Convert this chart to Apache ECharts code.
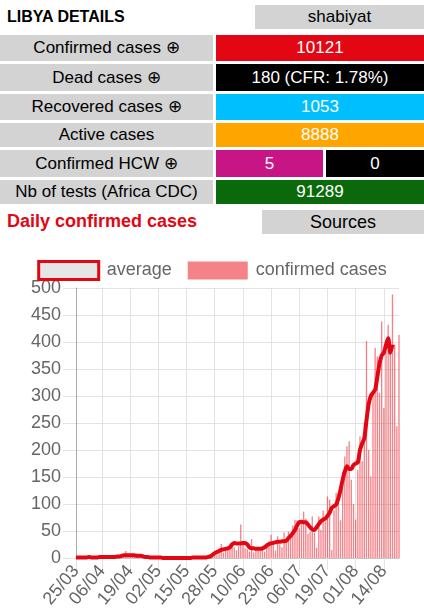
<!DOCTYPE html>
<html>
<head>
<meta charset="utf-8">
<script src="https://cdn.jsdelivr.net/npm/echarts@6/dist/echarts.min.js"></script>
<style>
  body {
    margin: 0;
    width: 424px;
    height: 616px;
    position: relative;
    overflow: hidden;
    background: #fff;
    font-family: Arial, "Liberation Sans", Helvetica, sans-serif;
    color: #000;
  }
  .box {
    position: absolute;
    text-align: center;
    font-size: 17px;
    white-space: nowrap;
  }
  .grey { background: #d3d3d3; color: #000; }
  .val { color: #fff; }
  .title {
    position: absolute;
    left: 7px;
    top: 8px;
    font-size: 16px;
    font-weight: bold;
  }
  .heading {
    position: absolute;
    left: 7px;
    top: 211px;
    font-size: 18px;
    font-weight: bold;
    color: #e30613;
  }
  #chart {
    position: absolute;
    left: 0;
    top: 240px;
    width: 424px;
    height: 376px;
  }
</style>
</head>
<body>
<div class="title">LIBYA DETAILS</div>
<div class="box grey" style="left:255px;top:5px;width:169px;height:24px;line-height:24px;">shabiyat</div>

<div class="box grey" style="left:0;top:35px;width:213px;height:26px;line-height:26px;">Confirmed cases ⊕</div>
<div class="box val" style="left:216px;top:35px;width:208px;height:26px;line-height:26px;background:#e30613;">10121</div>

<div class="box grey" style="left:0;top:64px;width:213px;height:27px;line-height:27px;">Dead cases ⊕</div>
<div class="box val" style="left:216px;top:64px;width:208px;height:27px;line-height:27px;background:#000;">180 (CFR: 1.78%)</div>

<div class="box grey" style="left:0;top:94px;width:213px;height:26px;line-height:26px;">Recovered cases ⊕</div>
<div class="box val" style="left:216px;top:94px;width:208px;height:26px;line-height:26px;background:#00bfff;">1053</div>

<div class="box grey" style="left:0;top:123px;width:213px;height:24px;line-height:24px;">Active cases</div>
<div class="box val" style="left:216px;top:123px;width:208px;height:24px;line-height:24px;background:#ffa500;">8888</div>

<div class="box grey" style="left:0;top:150px;width:213px;height:27px;line-height:27px;">Confirmed HCW ⊕</div>
<div class="box val" style="left:216px;top:150px;width:107px;height:27px;line-height:27px;background:#c71585;">5</div>
<div class="box val" style="left:326px;top:150px;width:98px;height:27px;line-height:27px;background:#000;">0</div>

<div class="box grey" style="left:0;top:180px;width:213px;height:24px;line-height:24px;">Nb of tests (Africa CDC)</div>
<div class="box val" style="left:216px;top:180px;width:208px;height:24px;line-height:24px;background:#0a690a;">91289</div>

<div class="heading">Daily confirmed cases</div>
<div class="box grey" style="left:262px;top:210px;width:162px;height:24px;line-height:24px;font-size:18px;">Sources</div>

<div id="chart"></div>

<script>
// one category per day, 25/03 -> 21/08
const dates = [
  '25/03', '26/03', '27/03', '28/03', '29/03', '30/03', '31/03',
  '01/04', '02/04', '03/04', '04/04', '05/04', '06/04', '07/04', '08/04', '09/04', '10/04',
  '11/04', '12/04', '13/04', '14/04', '15/04', '16/04', '17/04', '18/04', '19/04', '20/04',
  '21/04', '22/04', '23/04', '24/04', '25/04', '26/04', '27/04', '28/04', '29/04', '30/04',
  '01/05', '02/05', '03/05', '04/05', '05/05', '06/05', '07/05', '08/05', '09/05', '10/05',
  '11/05', '12/05', '13/05', '14/05', '15/05', '16/05', '17/05', '18/05', '19/05', '20/05',
  '21/05', '22/05', '23/05', '24/05', '25/05', '26/05', '27/05', '28/05', '29/05', '30/05', '31/05',
  '01/06', '02/06', '03/06', '04/06', '05/06', '06/06', '07/06', '08/06', '09/06', '10/06',
  '11/06', '12/06', '13/06', '14/06', '15/06', '16/06', '17/06', '18/06', '19/06', '20/06',
  '21/06', '22/06', '23/06', '24/06', '25/06', '26/06', '27/06', '28/06', '29/06', '30/06',
  '01/07', '02/07', '03/07', '04/07', '05/07', '06/07', '07/07', '08/07', '09/07', '10/07',
  '11/07', '12/07', '13/07', '14/07', '15/07', '16/07', '17/07', '18/07', '19/07', '20/07',
  '21/07', '22/07', '23/07', '24/07', '25/07', '26/07', '27/07', '28/07', '29/07', '30/07', '31/07',
  '01/08', '02/08', '03/08', '04/08', '05/08', '06/08', '07/08', '08/08', '09/08', '10/08',
  '11/08', '12/08', '13/08', '14/08', '15/08', '16/08', '17/08', '18/08', '19/08', '20/08', '21/08',
];

const tickLabels = ['25/03', '06/04', '19/04', '02/05', '15/05', '28/05',
  '10/06', '23/06', '06/07', '19/07', '01/08', '14/08'];

const confirmedCases = [
  1, 0, 2, 0, 3, 1, 2, 0, 1, 0,
  2, 3, 1, 0, 4, 2, 1, 3, 5, 2,
  4, 6, 3, 13, 7, 2, 5, 4, 8, 3,
  2, 1, 0, 3, 2, 1, 0, 0, 2, 1,
  0, 1, 0, 0, 1, 0, 0, 0, 1, 0,
  0, 0, 1, 0, 0, 2, 0, 1, 0, 3,
  1, 2, 0, 5, 12, 5, 9, 26, 10, 14,
  21, 17, 25, 20, 14, 22, 62, 31, 18, 16,
  12, 35, 10, 15, 14, 20, 18, 12, 28, 24,
  43, 30, 14, 40, 25, 20, 47, 34, 49, 38,
  60, 71, 70, 55, 64, 86, 73, 45, 48, 77,
  47, 19, 77, 52, 88, 68, 114, 108, 15, 88,
  121, 108, 70, 160, 188, 207, 216, 145, 100, 71,
  163, 225, 179, 250, 402, 200, 151, 309, 389, 373,
  306, 438, 278, 383, 432, 389, 488, 395, 244, 413,
];

const average = [
  1, 1, 1, 1, 1, 1, 2, 1, 1, 1,
  1, 2, 2, 2, 2, 2, 2, 2, 2, 3,
  3, 4, 5, 5, 5, 5, 5, 5, 4, 4,
  4, 3, 2, 2, 1, 1, 1, 1, 1, 1,
  0, 0, 0, 0, 0, 0, 0, 0, 0, 0,
  0, 0, 0, 0, 1, 1, 1, 1, 1, 1,
  1, 2, 3, 6, 9, 11, 13, 15, 16, 17,
  18, 20, 25, 28, 27, 27, 27, 28, 28, 25,
  20, 18, 18, 17, 17, 17, 18, 20, 23, 26,
  27, 28, 29, 30, 30, 31, 31, 32, 37, 41,
  46, 52, 60, 66, 67, 66, 66, 62, 57, 53,
  52, 57, 63, 68, 71, 73, 78, 84, 93, 96,
  99, 110, 126, 145, 160, 170, 165, 165, 172, 175,
  177, 200, 212, 222, 255, 285, 300, 306, 312, 335,
  360, 375, 380, 395, 407, 380, 395, null, null, null,
];

const gridColor = '#e3e3e3';
const isTick = (index, value) => tickLabels.includes(value);

const chart = echarts.init(document.getElementById('chart'));
chart.setOption({
  animation: false,
  textStyle: { fontFamily: 'Arial, "Liberation Sans", Helvetica, sans-serif' },
  legend: {
    top: 15,
    left: 'center',
    itemWidth: 60,
    itemHeight: 18,
    itemGap: 16,
    textStyle: { color: '#666', fontSize: 18, padding: [0, 0, 0, 3] },
    data: [
      {
        name: 'average',
        icon: 'rect',
        itemStyle: { color: '#e6e6e6', borderColor: '#e30613', borderWidth: 3 },
      },
      { name: 'confirmed cases', icon: 'rect' },
    ],
  },
  grid: {
    left: 76,
    right: 25,
    top: 48,
    bottom: 58,
  },
  xAxis: {
    type: 'category',
    data: dates,
    boundaryGap: false,
    axisLine: { lineStyle: { color: '#c4c4c4' } },
    axisTick: { length: 12, interval: isTick, lineStyle: { color: gridColor } },
    axisLabel: { interval: isTick, rotate: 50, color: '#666', fontSize: 18, margin: 10 },
    splitLine: { show: true, interval: isTick, lineStyle: { color: gridColor } },
  },
  yAxis: {
    type: 'value',
    min: 0,
    max: 500,
    interval: 50,
    axisLine: { show: true, lineStyle: { color: '#aaa' } },
    axisTick: { show: true, length: 13, lineStyle: { color: gridColor } },
    axisLabel: { color: '#666', fontSize: 18, margin: 15 },
    splitLine: { lineStyle: { color: gridColor } },
  },
  series: [
    {
      name: 'confirmed cases',
      type: 'bar',
      data: confirmedCases,
      barWidth: '62%',
      itemStyle: { color: 'rgba(235,30,40,0.55)' },
    },
    {
      name: 'average',
      type: 'line',
      data: average,
      showSymbol: false,
      smooth: 0.3,
      z: 5,
      lineStyle: { color: '#e30613', width: 4 },
      itemStyle: { color: '#e30613' },
    },
  ],
});
</script>
</body>
</html>
